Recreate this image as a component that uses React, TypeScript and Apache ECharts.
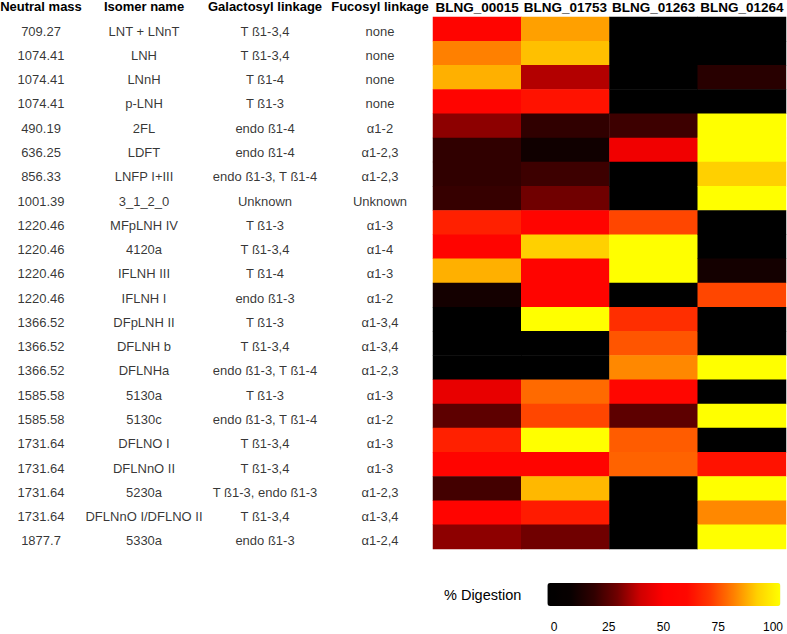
import React, { useEffect, useRef } from "react";
import * as echarts from "echarts";

const masses = ["709.27","1074.41","1074.41","1074.41","490.19","636.25","856.33","1001.39","1220.46","1220.46","1220.46","1220.46","1366.52","1366.52","1366.52","1585.58","1585.58","1731.64","1731.64","1731.64","1731.64","1877.7"];
const isomers = ["LNT + LNnT","LNH","LNnH","p-LNH","2FL","LDFT","LNFP I+III","3_1_2_0","MFpLNH IV","4120a","IFLNH III","IFLNH I","DFpLNH II","DFLNH b","DFLNHa","5130a","5130c","DFLNO I","DFLNnO II","5230a","DFLNnO I/DFLNO II","5330a"];
const galactosyl = ["T ß1-3,4","T ß1-3,4","T ß1-4","T ß1-3","endo ß1-4","endo ß1-4","endo ß1-3, T ß1-4","Unknown","T ß1-3","T ß1-3,4","T ß1-4","endo ß1-3","T ß1-3","T ß1-3,4","endo ß1-3, T ß1-4","T ß1-3","endo ß1-3, T ß1-4","T ß1-3,4","T ß1-3,4","T ß1-3, endo ß1-3","T ß1-3,4","endo ß1-3"];
const fucosyl = ["none","none","none","none","α1-2","α1-2,3","α1-2,3","Unknown","α1-3","α1-4","α1-3","α1-2","α1-3,4","α1-3,4","α1-2,3","α1-3","α1-2","α1-3","α1-3","α1-2,3","α1-3,4","α1-2,4"];
const enzymes = ["BLNG_00015","BLNG_01753","BLNG_01263","BLNG_01264"];
const headers = ["Neutral mass","Isomer name","Galactosyl linkage","Fucosyl linkage"];

// % digestion per row, one array per enzyme
const blng00015 = [55,80,86,55,33,20,20,21,65,55,86,13,0,0,0,45,27,65,55,23,55,33];
const blng01753 = [84,88,37,62,20,12,22,30,55,90,55,55,100,0,0,77,72,100,55,87,64,30];
const blng01263 = [0,0,0,0,22,47,0,0,72,100,100,0,68,74,81,58,27,75,76,0,0,0];
const blng01264 = [0,0,18,0,100,100,90,100,0,0,13,72,0,0,100,0,100,0,62,100,81,100];

const scaleTicks = [0,25,50,75,100];

const FONT = "Liberation Sans, Arial, Helvetica, sans-serif";
const colCenters = [41,144,265,380];

export default function App() {
  const ref = useRef<HTMLDivElement>(null);
  useEffect(() => {
    if (!ref.current) return;
    const chart = echarts.init(ref.current, null, { renderer: "svg" });
    const cols = [blng00015, blng01753, blng01263, blng01264];
    const heat: number[][] = [];
    cols.forEach((arr, ci) => arr.forEach((v, ri) => heat.push([ci, ri, v])));
    const tableCols = [masses, isomers, galactosyl, fucosyl];
    const tableSeries = tableCols.map((arr, ci) => ({
      type: "scatter",
      xAxisIndex: 1,
      yAxisIndex: 1,
      symbolSize: 0,
      silent: true,
      data: arr.map((t, ri) => [colCenters[ci], ri, t]),
      label: {
        show: true,
        position: "inside",
        formatter: (p: any) => p.data[2],
        color: "#000",
        fontSize: 13,
        fontFamily: FONT,
      },
    }));
    chart.setOption({
      animation: false,
      textStyle: { fontFamily: FONT },
      grid: [
        { left: 433, right: 1, top: 13, height: 536 },
        { left: 0, width: 433, top: 19, height: 534 },
        { left: 554, width: 219, top: 612, height: 1 },
      ],
      xAxis: [
        {
          type: "category",
          data: enzymes,
          position: "top",
          gridIndex: 0,
          axisLine: { show: false },
          axisTick: { show: false },
          axisLabel: { interval: 0, color: "#000", fontWeight: "bold", fontSize: 13.5, margin: 3, fontFamily: FONT },
        },
        { type: "value", gridIndex: 1, min: 0, max: 433, show: false },
        {
          type: "value",
          gridIndex: 2,
          min: 0,
          max: 100,
          interval: 25,
          axisLine: { show: false },
          axisTick: { show: false },
          splitLine: { show: false },
          axisLabel: { color: "#000", fontSize: 12, margin: 8, fontFamily: FONT },
        },
      ],
      yAxis: [
        { type: "category", data: isomers, inverse: true, gridIndex: 0, show: false },
        { type: "category", data: isomers, inverse: true, gridIndex: 1, show: false },
        { type: "value", gridIndex: 2, show: false },
      ],
      visualMap: {
        type: "continuous",
        min: 0,
        max: 100,
        seriesIndex: 0,
        orient: "horizontal",
        left: 429,
        top: 568,
        itemWidth: 23,
        itemHeight: 233,
        calculable: false,
        hoverLink: false,
        text: ["", "% Digestion"],
        textGap: 26,
        textStyle: { color: "#000", fontSize: 14.5, fontFamily: FONT },
        inRange: {
          color: ["#000000","#080000","#300000","#700000","#d00000","#ff0000","#ff0800","#ff3800","#ff8000","#ffd000","#ffff00"],
        },
      },
      graphic: headers.map((h, i) => ({
        type: "text",
        x: colCenters[i],
        y: 6,
        style: {
          text: h,
          fill: "#000",
          font: `bold 13px ${FONT}`,
          textAlign: "center",
          textVerticalAlign: "middle",
        },
      })),
      series: [
        {
          type: "heatmap",
          xAxisIndex: 0,
          yAxisIndex: 0,
          data: heat,
          silent: true,
        },
        ...tableSeries,
        { type: "scatter", xAxisIndex: 2, yAxisIndex: 2, data: [] },
      ],
    });
    return () => chart.dispose();
  }, []);
  return (
    <div
      ref={ref}
      style={{ position: "fixed", left: 0, top: 0, width: 787, height: 634, background: "#fff" }}
    />
  );
}
